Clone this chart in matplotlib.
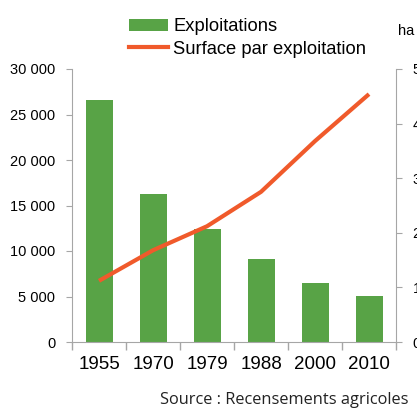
import matplotlib
matplotlib.use("Agg")
import matplotlib.pyplot as plt
from matplotlib.patches import Patch
from matplotlib.lines import Line2D

plt.rcParams["font.family"] = ["Liberation Sans", "DejaVu Sans"]

years = ["1955", "1970", "1979", "1988", "2000", "2010"]
exploitations = [26600, 16250, 12400, 9100, 6480, 5090]
surface_ha = [11.2, 16.8, 21.2, 27.5, 36.8, 45.4]
left_ticks = [0, 5000, 10000, 15000, 20000, 25000, 30000]
left_labels = ["0", "5 000", "10 000", "15 000", "20 000", "25 000", "30 000"]
right_ticks = [0, 10, 20, 30, 40, 50]

GREEN = "#58A346"
ORANGE = "#F05A2B"
GRAY = "#A6A6A6"

fig = plt.figure(figsize=(4.17, 4.08), dpi=100)
ax = fig.add_axes([72 / 417, 66 / 408, 324 / 417, 273 / 408])

x = list(range(len(years)))
ax.bar(x, exploitations, width=0.5, color=GREEN, zorder=2)
ax.set_xlim(-0.5, len(years) - 0.5)
ax.set_ylim(0, 30000)
ax.set_yticks(left_ticks)
ax.set_yticklabels(left_labels, fontsize=10.5)
ax.set_xticks(x)
ax.set_xticklabels(years, fontsize=13.5)
ax.set_xticks([i - 0.5 for i in range(len(years) + 1)], minor=True)
ax.tick_params(axis="x", which="major", length=0, pad=10)
ax.tick_params(axis="x", which="minor", length=6, color=GRAY, width=1)
ax.tick_params(axis="y", length=4, color=GRAY, pad=8)
for side in ("top", "right"):
    ax.spines[side].set_visible(False)
for side in ("left", "bottom"):
    ax.spines[side].set_color(GRAY)

ax2 = ax.twinx()
ax2.plot(x, surface_ha, color=ORANGE, lw=3, solid_capstyle="butt", zorder=3)
ax2.set_ylim(0, 50)
ax2.set_yticks(right_ticks)
ax2.set_yticklabels([str(t) for t in right_ticks], fontsize=10.5)
ax2.tick_params(axis="y", length=4, color=GRAY, pad=8)
for side in ("top", "left", "bottom"):
    ax2.spines[side].set_visible(False)
ax2.spines["right"].set_color(GRAY)

fig.text(398 / 417, 1 - 31 / 408, "ha", fontsize=10.5, va="center", ha="left")

handles = [Patch(facecolor=GREEN, edgecolor="none"),
           Line2D([], [], color=ORANGE, lw=3)]
fig.legend(handles, ["Exploitations", "Surface par exploitation"],
           loc="upper left", bbox_to_anchor=(122 / 417, 1 - 11 / 408),
           frameon=False, fontsize=13.2, handlelength=2.1, handleheight=0.7,
           handletextpad=0.3, labelspacing=0.3, borderaxespad=0)

fig.text(408 / 417, 1 - 400 / 408, "Source : Recensements agricoles",
         fontsize=11.8, ha="right", va="center", family=["Open Sans", "DejaVu Sans"],
         color="#222222")

fig.savefig("out.png", dpi=100)
